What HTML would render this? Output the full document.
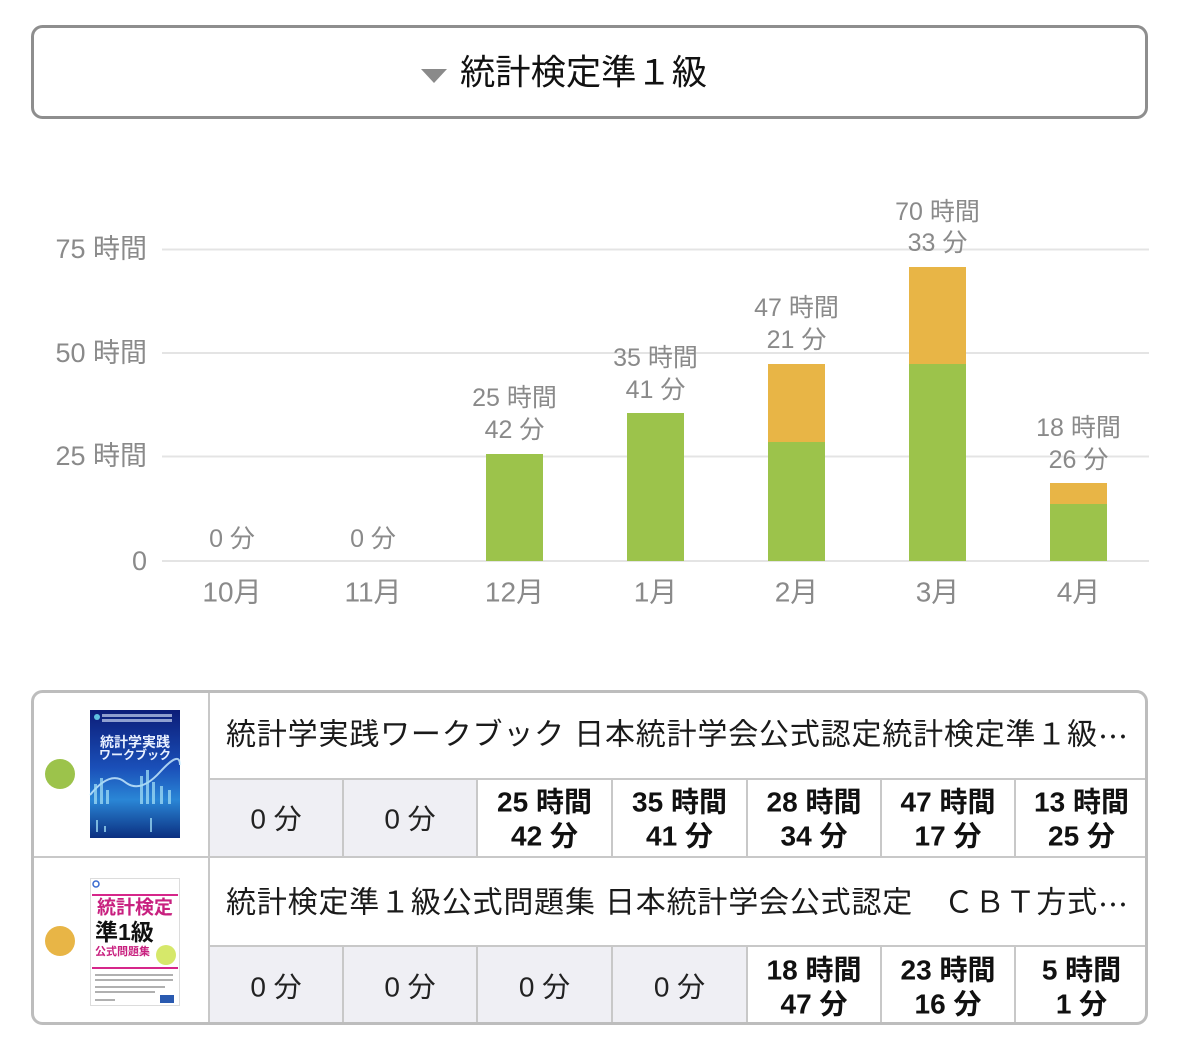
<!DOCTYPE html>
<html><head><meta charset="utf-8"><style>
html,body{margin:0;padding:0;background:#fff;}
svg{display:block;}
text{font-family:'Liberation Sans','Noto Sans CJK JP',sans-serif;}
</style></head><body>
<svg width="1179" height="1064" viewBox="0 0 1179 1064" xmlns="http://www.w3.org/2000/svg">
<defs>
<linearGradient id="b1" x1="0" y1="0" x2="0" y2="1">
<stop offset="0" stop-color="#0c1d78"/><stop offset="0.45" stop-color="#1a4fb8"/><stop offset="0.7" stop-color="#2a86d6"/><stop offset="1" stop-color="#0b2f80"/>
</linearGradient>
</defs>
<rect width="1179" height="1064" fill="#fff"/>
<!-- header -->
<rect x="32.5" y="26.5" width="1114" height="91" rx="10" fill="#fff" stroke="#8e8e8e" stroke-width="3"/>
<polygon points="421,69 447,69 434,83" fill="#8a8a8a"/>
<text x="460" y="73" font-size="35" fill="#111" dominant-baseline="central" textLength="247" lengthAdjust="spacingAndGlyphs">統計検定準１級</text>

<!-- grid -->
<g stroke="#e4e4e4" stroke-width="2">
<line x1="162" y1="249.5" x2="1149" y2="249.5"/>
<line x1="162" y1="353" x2="1149" y2="353"/>
<line x1="162" y1="456.5" x2="1149" y2="456.5"/>
<line x1="162" y1="561" x2="1149" y2="561"/>
</g>
<g font-size="27" fill="#8a8a8a" text-anchor="end" dominant-baseline="central">
<text x="147" y="249">75 時間</text>
<text x="147" y="353">50 時間</text>
<text x="147" y="456">25 時間</text>
<text x="147" y="561">0</text>
</g>

<!-- bars -->
<g>
<rect x="486" y="454" width="57" height="107" fill="#9cc34b"/>
<rect x="627" y="413" width="57" height="148" fill="#9cc34b"/>
<rect x="768" y="364" width="57" height="78" fill="#e8b546"/>
<rect x="768" y="442" width="57" height="119" fill="#9cc34b"/>
<rect x="909" y="267" width="57" height="97" fill="#e8b546"/>
<rect x="909" y="364" width="57" height="197" fill="#9cc34b"/>
<rect x="1050" y="483" width="57" height="21" fill="#e8b546"/>
<rect x="1050" y="504" width="57" height="57" fill="#9cc34b"/>
</g>

<g font-size="25" fill="#8a8a8a" text-anchor="middle" dominant-baseline="central">
<text x="232" y="539">0 分</text>
<text x="373" y="539">0 分</text>
<text x="514.5" y="398">25 時間</text><text x="514.5" y="430">42 分</text>
<text x="655.5" y="358">35 時間</text><text x="655.5" y="390">41 分</text>
<text x="796.5" y="308">47 時間</text><text x="796.5" y="340">21 分</text>
<text x="937.5" y="212">70 時間</text><text x="937.5" y="243">33 分</text>
<text x="1078.5" y="428">18 時間</text><text x="1078.5" y="460">26 分</text>
</g>
<g font-size="28" fill="#8a8a8a" text-anchor="middle" dominant-baseline="central">
<text x="232" y="592">10月</text>
<text x="373" y="592">11月</text>
<text x="514.5" y="592">12月</text>
<text x="655.5" y="592">1月</text>
<text x="796.5" y="592">2月</text>
<text x="937.5" y="592">3月</text>
<text x="1078.5" y="592">4月</text>
</g>

<!-- table -->
<rect x="32" y="691" width="1115" height="333" rx="10" fill="#fff"/>
<g fill="#efeff4">
<rect x="209" y="779" width="268" height="78"/>
<rect x="209" y="946" width="538" height="78"/>
</g>
<g stroke="#c8c8c8" stroke-width="2">
<line x1="209" y1="691" x2="209" y2="1024"/>
<line x1="32" y1="857" x2="1147" y2="857"/>
<line x1="209" y1="779" x2="1147" y2="779"/>
<line x1="209" y1="946" x2="1147" y2="946"/>
<line x1="343" y1="779" x2="343" y2="857"/><line x1="477" y1="779" x2="477" y2="857"/>
<line x1="612" y1="779" x2="612" y2="857"/><line x1="747" y1="779" x2="747" y2="857"/>
<line x1="881" y1="779" x2="881" y2="857"/><line x1="1015" y1="779" x2="1015" y2="857"/>
<line x1="343" y1="946" x2="343" y2="1024"/><line x1="477" y1="946" x2="477" y2="1024"/>
<line x1="612" y1="946" x2="612" y2="1024"/><line x1="747" y1="946" x2="747" y2="1024"/>
<line x1="881" y1="946" x2="881" y2="1024"/><line x1="1015" y1="946" x2="1015" y2="1024"/>
</g>
<rect x="32.5" y="691.5" width="1114" height="332" rx="10" fill="none" stroke="#bdbdbd" stroke-width="3"/>

<circle cx="60" cy="774" r="15" fill="#9cc34b"/>
<circle cx="60" cy="941" r="15" fill="#e8b546"/>

<!-- book 1 -->
<rect x="90" y="710" width="90" height="128" fill="url(#b1)"/>
<circle cx="97" cy="717" r="3" fill="#5fc0e0"/>
<rect x="102" y="714" width="70" height="3" fill="#c8d4f0" opacity="0.7"/>
<rect x="102" y="719" width="70" height="3" fill="#c8d4f0" opacity="0.7"/>
<text x="135" y="742" font-size="14" font-weight="bold" fill="#e8f0ff" text-anchor="middle" dominant-baseline="central">統計学実践</text>
<text x="135" y="755" font-size="12" font-weight="bold" fill="#e8f0ff" text-anchor="middle" dominant-baseline="central">ワークブック</text>
<path d="M90,795 Q110,770 125,782 T160,772 T180,765" stroke="#d0f0ff" stroke-width="2" fill="none" opacity="0.8"/>
<g fill="#9fdcf5" opacity="0.75">
<rect x="94" y="784" width="3" height="20"/><rect x="100" y="778" width="3" height="26"/><rect x="106" y="790" width="3" height="14"/>
<rect x="140" y="776" width="3" height="28"/><rect x="146" y="770" width="3" height="34"/><rect x="152" y="782" width="3" height="22"/><rect x="160" y="786" width="3" height="18"/><rect x="168" y="790" width="3" height="14"/>
<rect x="96" y="820" width="2" height="12"/><rect x="104" y="826" width="2" height="6"/><rect x="150" y="818" width="2" height="14"/>
</g>

<!-- book 2 -->
<rect x="90.5" y="878.5" width="89" height="127" fill="#fff" stroke="#dcdcdc" stroke-width="1"/>
<circle cx="96" cy="884" r="3" fill="none" stroke="#3a6ad0" stroke-width="1.5"/>
<rect x="92" y="894" width="86" height="2" fill="#d6268a"/>
<text x="135" y="908" font-size="19" font-weight="bold" fill="#c8207f" text-anchor="middle" dominant-baseline="central" font-family="'Noto Serif CJK SC',serif">統計検定</text>
<text x="95" y="932" font-size="23" font-weight="bold" fill="#111" dominant-baseline="central">準1級</text>
<text x="95" y="952" font-size="11" font-weight="bold" fill="#c8207f" dominant-baseline="central">公式問題集</text>
<circle cx="166" cy="955" r="10" fill="#d6e86a"/>
<rect x="92" y="967" width="86" height="2" fill="#d6268a"/>
<g fill="#b0b0b0"><rect x="95" y="974" width="78" height="2"/><rect x="95" y="979" width="78" height="2"/><rect x="95" y="986" width="70" height="2"/><rect x="95" y="991" width="60" height="2"/><rect x="95" y="999" width="20" height="2"/></g>
<rect x="160" y="995" width="14" height="8" fill="#2a5ab0"/>

<!-- titles -->
<text x="226" y="735" font-size="30" fill="#1a1a1a" dominant-baseline="central" textLength="902" lengthAdjust="spacing">統計学実践ワークブック 日本統計学会公式認定統計検定準１級<tspan font-family="'Noto Sans CJK JP',sans-serif">…</tspan></text>
<text x="226" y="903" font-size="30" fill="#1a1a1a" dominant-baseline="central" textLength="902" lengthAdjust="spacing">統計検定準１級公式問題集 日本統計学会公式認定　ＣＢＴ方式<tspan font-family="'Noto Sans CJK JP',sans-serif">…</tspan></text>

<!-- cell values -->
<g font-size="28" fill="#222" text-anchor="middle" dominant-baseline="central">
<text x="276" y="819">0 分</text>
<text x="410" y="819">0 分</text>
<text x="276" y="987">0 分</text>
<text x="410" y="987">0 分</text>
<text x="544.5" y="987">0 分</text>
<text x="679.5" y="987">0 分</text>
</g>
<g font-size="28" font-weight="bold" fill="#111" text-anchor="middle" dominant-baseline="central">
<text x="544.5" y="802">25 時間</text><text x="544.5" y="836">42 分</text>
<text x="679.5" y="802">35 時間</text><text x="679.5" y="836">41 分</text>
<text x="814" y="802">28 時間</text><text x="814" y="836">34 分</text>
<text x="948" y="802">47 時間</text><text x="948" y="836">17 分</text>
<text x="1081.5" y="802">13 時間</text><text x="1081.5" y="836">25 分</text>
<text x="814" y="970">18 時間</text><text x="814" y="1004">47 分</text>
<text x="948" y="970">23 時間</text><text x="948" y="1004">16 分</text>
<text x="1081.5" y="970">5 時間</text><text x="1081.5" y="1004">1 分</text>
</g>
</svg>
</body></html>
